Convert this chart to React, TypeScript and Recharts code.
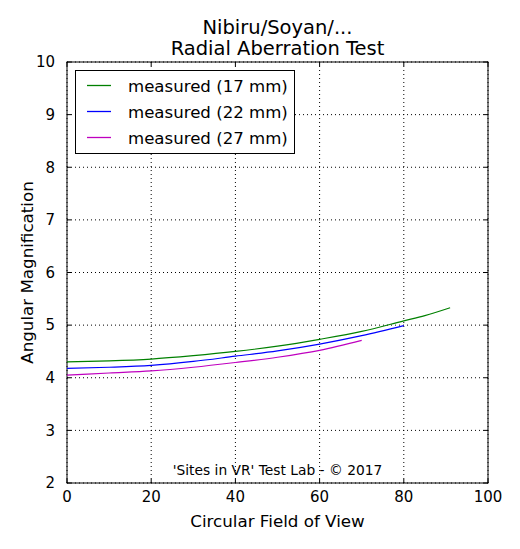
import React from 'react';
import { LineChart, Line, XAxis, YAxis, CartesianGrid, Customized } from 'recharts';

const fov = [0, 10, 20, 30, 40, 50, 60, 70, 80, 85, 91];
const mag17 = [4.3, 4.32, 4.355, 4.42, 4.5, 4.6, 4.73, 4.88, 5.08, 5.18, 5.33];
const mag22 = [4.18, 4.2, 4.235, 4.31, 4.41, 4.51, 4.64, 4.8, 4.99, null, null];
const mag27 = [4.05, 4.09, 4.13, 4.2, 4.29, 4.39, 4.52, 4.71, null, null, null];
const xTicks = [0, 20, 40, 60, 80, 100];
const yTicks = [2, 3, 4, 5, 6, 7, 8, 9, 10];
const seriesNames = ['measured (17 mm)', 'measured (22 mm)', 'measured (27 mm)'];
const seriesColors = ['#008000', '#0000ff', '#bf00bf'];
const titleLines = ['Nibiru/Soyan/...', 'Radial Aberration Test'];

const data = fov.map((x, i) => ({ x, s17: mag17[i], s22: mag22[i], s27: mag27[i] }));

const FONT = 'DejaVu Sans, sans-serif';
const PL = 67, PT = 62, PW = 421, PH = 421;

const Frame = () => {
  const left = PL, top = PT, width = PW, height = PH;
  const ticks: any[] = [];
  const tl = 4;
  xTicks.forEach((t, i) => {
    const x = left + (t / 100) * width;
    ticks.push(<line key={'xb' + i} x1={x} x2={x} y1={top + height} y2={top + height - tl} stroke="#000" />);
    ticks.push(<line key={'xt' + i} x1={x} x2={x} y1={top} y2={top + tl} stroke="#000" />);
  });
  yTicks.forEach((t, i) => {
    const y = top + height - ((t - 2) / 8) * height;
    ticks.push(<line key={'yl' + i} x1={left} x2={left + tl} y1={y} y2={y} stroke="#000" />);
    ticks.push(<line key={'yr' + i} x1={left + width} x2={left + width - tl} y1={y} y2={y} stroke="#000" />);
  });
  const cx = left + width / 2;
  return (
    <g>
      {ticks}
      <rect x={left} y={top} width={width} height={height} fill="none" stroke="#000" strokeWidth={1} />
      <text x={cx} y={33.5} textAnchor="middle" fontSize={19.5} fontFamily={FONT} fill="#000">
        <tspan x={cx} y={33.5}>{titleLines[0]}</tspan>
        <tspan x={cx} y={54.5}>{titleLines[1]}</tspan>
      </text>
      <text x={cx} y={475} textAnchor="middle" fontSize={13.8} fontFamily={FONT} fill="#000">'Sites in VR' Test Lab - © 2017</text>
      <g>
        <rect x={75.5} y={70.5} width={219} height={83} fill="#fff" stroke="#000" />
        {seriesNames.map((n, i) => (
          <g key={n}>
            <line x1={87} x2={111} y1={85.5 + i * 26} y2={85.5 + i * 26} stroke={seriesColors[i]} strokeWidth={1.3} />
            <text x={128} y={91.5 + i * 26} fontSize={16.6} fontFamily={FONT} fill="#000">{n}</text>
          </g>
        ))}
      </g>
    </g>
  );
};

export default function App() {
  return (
    <div style={{ position: 'absolute', left: 0, top: 0, width: 520, height: 549, background: '#fff' }}>
      <LineChart width={520} height={549} data={data} margin={{ top: PT, right: 520 - PL - PW, bottom: 0, left: 0 }}>
        <CartesianGrid stroke="#000" strokeDasharray="1 3" />
        <XAxis
          dataKey="x"
          type="number"
          domain={[0, 100]}
          ticks={xTicks}
          height={549 - PT - PH}
          tickLine={false}
          axisLine={false}
          tick={{ fontSize: 15, fill: '#000', fontFamily: FONT }}
          tickMargin={2}
          label={{ value: 'Circular Field of View', position: 'insideBottom', offset: 22, fontSize: 16.7, fill: '#000', fontFamily: FONT }}
        />
        <YAxis
          type="number"
          domain={[2, 10]}
          ticks={yTicks}
          width={PL}
          tickLine={false}
          axisLine={false}
          tick={{ fontSize: 15, fill: '#000', fontFamily: FONT }}
          tickMargin={6}
          label={{ value: 'Angular Magnification', angle: -90, position: 'insideLeft', offset: 27, style: { textAnchor: 'middle' }, fontSize: 16.7, fill: '#000', fontFamily: FONT }}
        />
        <Line dataKey="s17" name={seriesNames[0]} stroke={seriesColors[0]} dot={false} strokeWidth={1.2} isAnimationActive={false} type="monotone" />
        <Line dataKey="s22" name={seriesNames[1]} stroke={seriesColors[1]} dot={false} strokeWidth={1.2} isAnimationActive={false} type="monotone" />
        <Line dataKey="s27" name={seriesNames[2]} stroke={seriesColors[2]} dot={false} strokeWidth={1.2} isAnimationActive={false} type="monotone" />
        <Customized component={Frame} />
      </LineChart>
    </div>
  );
}
